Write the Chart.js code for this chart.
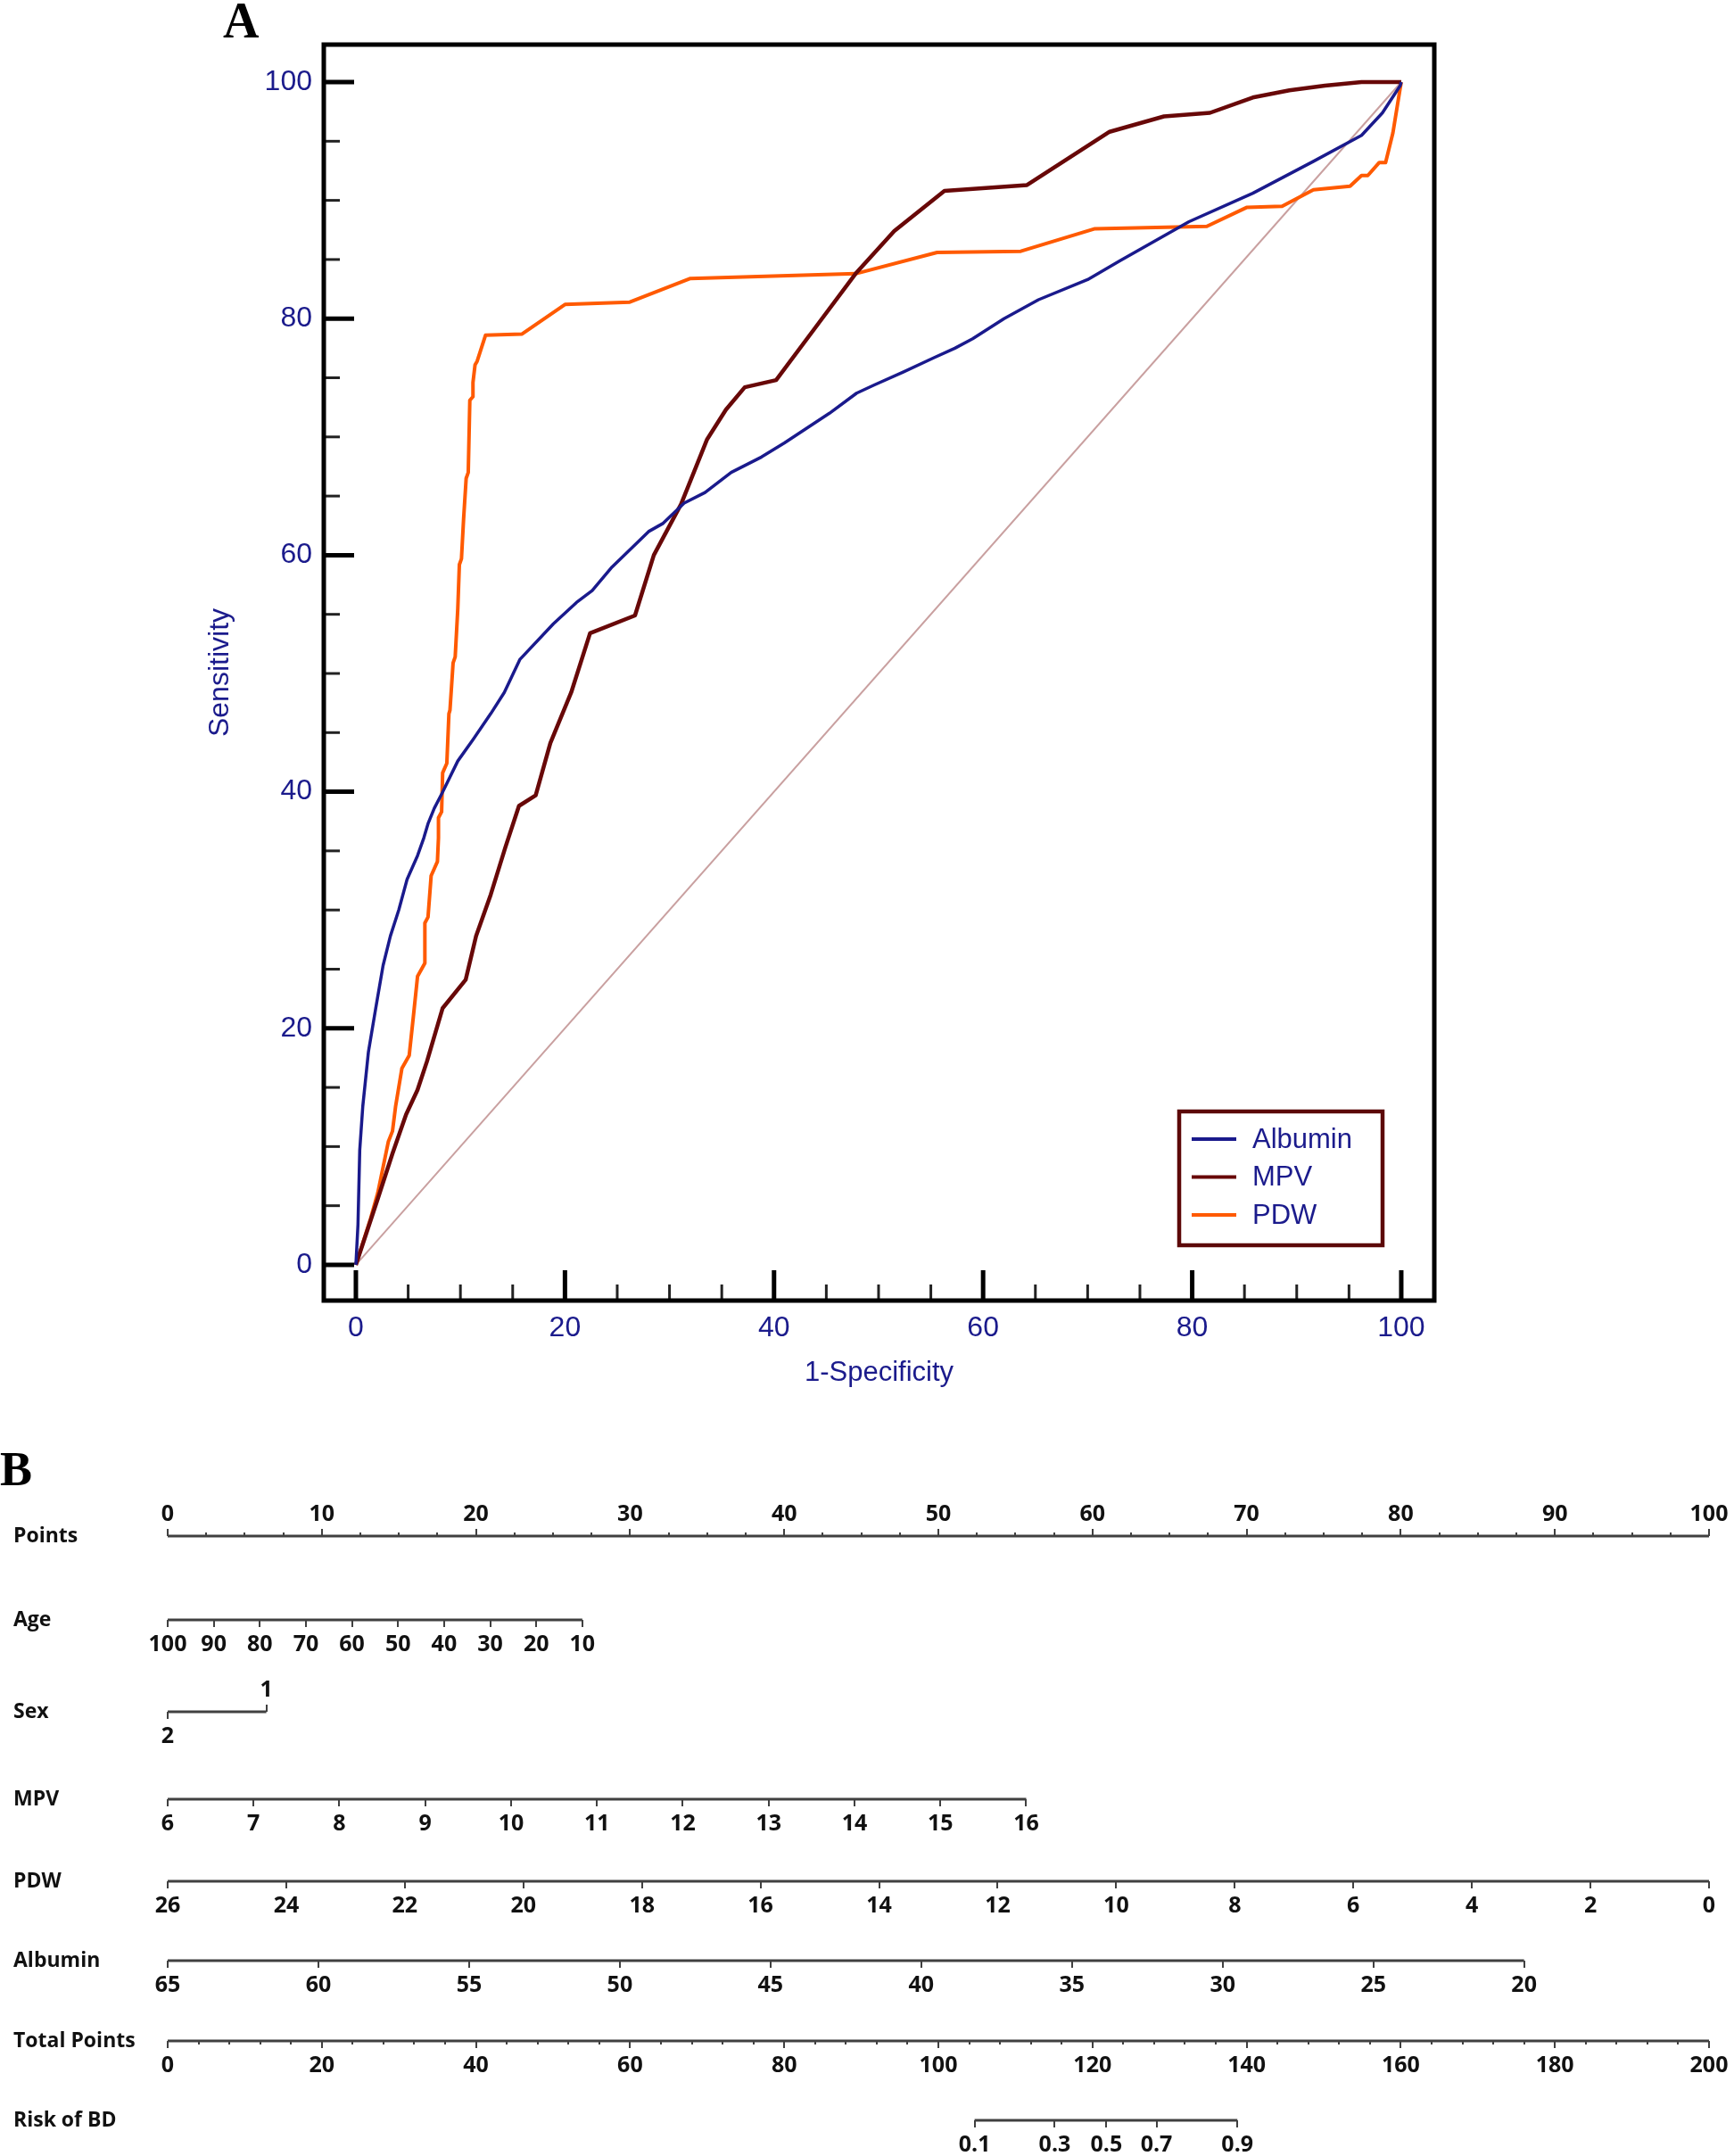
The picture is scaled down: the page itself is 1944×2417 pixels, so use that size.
<!DOCTYPE html>
<html>
<head>
<meta charset="utf-8">
<title>ROC e nomograma</title>
<script src="https://cdn.jsdelivr.net/npm/chart.js@4.4.1/dist/chart.umd.min.js"></script>
<style>
	html, body { margin: 0; padding: 0; background: #fff; }
	canvas { display: block; }
</style>
</head>
<body>
<canvas id="graficoRoc" width="1944" height="1600"></canvas>
<canvas id="graficoNomograma" width="1944" height="817"></canvas>
<script>
// Painel A - curvas ROC (1-especificidade, sensibilidade)
var curvaAlbumin = [[0,0],[0.2,3.4],[0.37,9.7],[0.66,13.4],[1.2,18.0],[1.9,21.7],[2.6,25.3],[3.3,27.8],[4.1,30.0],[4.9,32.6],[5.9,34.6],[6.5,36.1],[6.9,37.3],[7.5,38.6],[8.2,39.8],[9.75,42.6],[11.2,44.4],[12.9,46.6],[14.2,48.4],[15.7,51.2],[18.9,54.2],[21.1,56.0],[22.6,57.0],[24.5,59.0],[28.0,62.0],[29.4,62.7],[31.4,64.4],[33.4,65.3],[35.9,67.0],[38.8,68.3],[41.0,69.5],[45.3,72.0],[47.9,73.7],[49.6,74.4],[52.4,75.5],[55.3,76.7],[57.3,77.5],[59.0,78.3],[62.0,80.0],[65.3,81.6],[70.0,83.3],[73.1,84.9],[79.7,88.2],[85.8,90.6],[91.6,93.3],[96.2,95.5],[98.2,97.4],[99.9,99.7],[100,100]];
var curvaMpv = [[0,0],[2.1,5.6],[3.5,9.4],[4.8,12.7],[5.9,14.8],[6.8,17.2],[8.3,21.7],[10.5,24.1],[11.5,27.8],[12.9,31.3],[14.3,35.3],[15.6,38.8],[17.2,39.7],[18.6,44.1],[20.6,48.4],[22.4,53.4],[26.7,54.9],[28.5,60.0],[31.1,64.3],[33.6,69.8],[35.4,72.3],[37.2,74.2],[40.2,74.8],[44.0,79.3],[47.8,83.8],[51.5,87.4],[56.3,90.8],[64.2,91.3],[72.1,95.8],[77.3,97.1],[81.7,97.4],[85.8,98.7],[89.3,99.3],[92.7,99.7],[96.2,100],[100,100]];
var curvaPdw = [[0,0],[1.4,3.9],[2.1,6.1],[3.1,10.4],[3.5,11.3],[3.8,13.4],[4.4,16.6],[5.1,17.7],[5.5,21.0],[5.9,24.4],[6.6,25.5],[6.6,28.9],[6.9,29.4],[7.2,32.9],[7.8,34.1],[7.9,36.1],[7.9,37.8],[8.2,38.3],[8.3,41.6],[8.7,42.4],[8.9,46.6],[9.0,46.9],[9.3,50.9],[9.5,51.4],[9.75,55.5],[9.9,59.2],[10.1,59.7],[10.3,63.0],[10.55,66.5],[10.75,67.0],[10.9,73.1],[11.2,73.4],[11.2,74.6],[11.4,76.1],[11.6,76.4],[12.4,78.6],[15.9,78.7],[20.0,81.2],[26.2,81.4],[32.0,83.4],[47.8,83.8],[55.6,85.6],[63.6,85.7],[70.7,87.6],[81.4,87.8],[85.2,89.4],[88.6,89.5],[91.6,90.9],[95.1,91.2],[96.2,92.1],[96.8,92.1],[97.9,93.2],[98.5,93.2],[99.2,95.7],[99.9,99.5],[100,100]];
var diagonal = [[0,0],[100,100]];
var rocTicks = [0, 20, 40, 60, 80, 100];

// Painel B - nomograma
var rotulosLinhas = ['Points', 'Age', 'Sex', 'MPV', 'PDW', 'Albumin', 'Total Points', 'Risk of BD'];
var pontosTicks = [0, 10, 20, 30, 40, 50, 60, 70, 80, 90, 100];
var idadeValores = [100, 90, 80, 70, 60, 50, 40, 30, 20, 10];
var idadeFaixa = [0, 26.9];
var sexoRotulos = ['2', '1'];
var sexoPontos = [0, 6.4];
var mpvValores = [6, 7, 8, 9, 10, 11, 12, 13, 14, 15, 16];
var mpvFaixa = [0, 55.7];
var pdwValores = [26, 24, 22, 20, 18, 16, 14, 12, 10, 8, 6, 4, 2, 0];
var pdwFaixa = [0, 100];
var albuminaValores = [65, 60, 55, 50, 45, 40, 35, 30, 25, 20];
var albuminaFaixa = [0, 88.0];
var totalTicks = [0, 20, 40, 60, 80, 100, 120, 140, 160, 180, 200];
var riscoRotulos = ['0.1', '0.3', '0.5', '0.7', '0.9'];
var riscoPontos = [104.7, 115.1, 121.8, 128.3, 138.8];

// layout (pixels do canvas do nomograma)
var LINHA_Y = [122, 216, 319, 417, 509, 598, 688, 777];

var AZUL = '#1b1b8c';
var CINZA = '#404040';
var TEXTO = '#111111';
var FONTE_ROC = '"Liberation Sans", Arial, sans-serif';
var fonteNomo = { family: '"Open Sans", "Noto Sans", sans-serif', size: 25, weight: 'bold' };
var fonteLinhas = { family: '"Open Sans", "Noto Sans", sans-serif', size: 23, weight: 'bold' };

function pares(lista) {
	return lista.map(function(p) { return { x: p[0], y: p[1] }; });
}

function paraTicks(lista) {
	return lista.map(function(v) { return { value: v }; });
}

var molduraRoc = {
	id: 'molduraRoc',
	beforeDatasetsDraw: function(chart) {
		var ctx = chart.ctx, a = chart.chartArea;
		var sx = chart.scales.x, sy = chart.scales.y;
		ctx.save();
		for (var v = 0; v <= 100; v += 5) {
			var maior = v % 20 === 0;
			var len = maior ? 34 : 18;
			ctx.lineWidth = maior ? 5 : 3;
			ctx.strokeStyle = maior ? '#000' : '#222';
			var px = sx.getPixelForValue(v);
			ctx.beginPath(); ctx.moveTo(px, a.bottom); ctx.lineTo(px, a.bottom - len); ctx.stroke();
			var py = sy.getPixelForValue(v);
			ctx.beginPath(); ctx.moveTo(a.left, py); ctx.lineTo(a.left + len, py); ctx.stroke();
		}
		ctx.restore();
	},
	afterDraw: function(chart) {
		var ctx = chart.ctx, a = chart.chartArea;
		ctx.save();
		ctx.lineWidth = 5;
		ctx.strokeStyle = '#000';
		ctx.strokeRect(a.left, a.top, a.right - a.left, a.bottom - a.top);

		var caixa = { x: 1322, y: 1246, w: 228, h: 150 };
		ctx.fillStyle = '#fff';
		ctx.fillRect(caixa.x, caixa.y, caixa.w, caixa.h);
		ctx.lineWidth = 4.5;
		ctx.strokeStyle = '#5c0808';
		ctx.strokeRect(caixa.x, caixa.y, caixa.w, caixa.h);
		ctx.font = '31px ' + FONTE_ROC;
		ctx.textBaseline = 'middle';
		ctx.textAlign = 'left';
		chart.data.datasets.slice(0, 3).forEach(function(ds, i) {
			var yy = caixa.y + 31 + i * 42.5;
			ctx.strokeStyle = ds.borderColor;
			ctx.lineWidth = 4;
			ctx.beginPath(); ctx.moveTo(caixa.x + 14, yy); ctx.lineTo(caixa.x + 64, yy); ctx.stroke();
			ctx.fillStyle = AZUL;
			ctx.fillText(ds.label, caixa.x + 82, yy + 1);
		});

		ctx.fillStyle = '#000';
		ctx.font = 'bold 56px "Liberation Serif", "Times New Roman", serif';
		ctx.textBaseline = 'alphabetic';
		ctx.fillText('A', 250, 42);
		ctx.restore();
	}
};

var graficoRoc = new Chart(document.getElementById('graficoRoc').getContext('2d'), {
	type: 'line',
	data: {
		datasets: [
			{ label: 'Albumin', data: pares(curvaAlbumin), borderColor: '#1a1a8c', borderWidth: 3.5 },
			{ label: 'MPV', data: pares(curvaMpv), borderColor: '#680808', borderWidth: 4.5 },
			{ label: 'PDW', data: pares(curvaPdw), borderColor: '#ff5a00', borderWidth: 4 },
			{ label: '', data: pares(diagonal), borderColor: '#c9a0a0', borderWidth: 2 }
		]
	},
	options: {
		responsive: false,
		animation: false,
		devicePixelRatio: 1,
		layout: { padding: { left: 0, top: 50, right: 336, bottom: 0 } },
		elements: { point: { radius: 0 }, line: { tension: 0, borderJoinStyle: 'round', fill: false } },
		plugins: { legend: { display: false }, tooltip: { enabled: false } },
		scales: {
			x: {
				type: 'linear', min: -3.07, max: 103.16,
				grid: { display: false, drawTicks: false },
				border: { display: false },
				afterBuildTicks: function(s) { s.ticks = paraTicks(rocTicks); },
				afterFit: function(s) { s.height = 142; },
				ticks: { color: AZUL, font: { family: FONTE_ROC, size: 32 }, padding: 12, maxRotation: 0, autoSkip: false },
				title: { display: true, text: '1-Specificity', color: AZUL, font: { family: FONTE_ROC, size: 31 }, padding: { top: 0, bottom: 42 } }
			},
			y: {
				type: 'linear', min: -3.02, max: 103.17,
				grid: { display: false, drawTicks: false },
				border: { display: false },
				afterBuildTicks: function(s) { s.ticks = paraTicks(rocTicks); },
				afterFit: function(s) { s.width = 363; },
				ticks: { color: AZUL, font: { family: FONTE_ROC, size: 32 }, padding: 13, autoSkip: false },
				title: { display: true, text: 'Sensitivity', color: AZUL, font: { family: FONTE_ROC, size: 32 }, padding: { top: 228, bottom: 0 } }
			}
		}
	},
	plugins: [molduraRoc]
});

// ---- nomograma ----
function paraPontos(valores, faixa) {
	var v0 = valores[0], v1 = valores[valores.length - 1];
	return valores.map(function(v) {
		return faixa[0] + (v - v0) / (v1 - v0) * (faixa[1] - faixa[0]);
	});
}

function marcasMenores(max, passo) {
	var lista = [];
	for (var v = 0; v <= max + 1e-9; v += passo) lista.push(v);
	return lista;
}

function eixo(yLinha, max, posicoes, rotulos, comprimento, acima) {
	return {
		type: 'linear', axis: 'x', position: { y: yLinha }, min: 0, max: max,
		border: { display: false },
		grid: { display: true, drawOnChartArea: false, drawTicks: true, tickLength: acima ? -comprimento : comprimento, color: CINZA, lineWidth: 2 },
		afterBuildTicks: function(s) { s.ticks = paraTicks(posicoes); },
		ticks: {
			display: !!rotulos, autoSkip: false, maxRotation: 0, minRotation: 0,
			color: TEXTO, font: fonteNomo, padding: acima ? -31 : 5,
			callback: function(v, i) { return rotulos ? rotulos[i] : ''; }
		}
	};
}

function linha(id, yLinha, x0, x1) {
	return {
		data: [{ x: x0, y: yLinha }, { x: x1, y: yLinha }],
		xAxisID: id, yAxisID: 'y',
		borderColor: CINZA, borderWidth: 3, pointRadius: 0, clip: false
	};
}

var idadePos = paraPontos(idadeValores, idadeFaixa);
var mpvPos = paraPontos(mpvValores, mpvFaixa);
var pdwPos = paraPontos(pdwValores, pdwFaixa);
var albuminaPos = paraPontos(albuminaValores, albuminaFaixa);

var letraB = {
	id: 'letraB',
	afterDraw: function(chart) {
		var ctx = chart.ctx;
		ctx.save();
		ctx.fillStyle = '#000';
		ctx.font = 'bold 54px "Liberation Serif", "Times New Roman", serif';
		ctx.textBaseline = 'alphabetic';
		ctx.textAlign = 'left';
		ctx.fillText('B', 0, 65);
		ctx.restore();
	}
};

var graficoNomograma = new Chart(document.getElementById('graficoNomograma').getContext('2d'), {
	type: 'line',
	data: {
		datasets: [
			linha('pMaior', LINHA_Y[0], 0, 100),
			linha('idade', LINHA_Y[1], idadePos[0], idadePos[idadePos.length - 1]),
			linha('sexo2', LINHA_Y[2], sexoPontos[0], sexoPontos[1]),
			linha('mpv', LINHA_Y[3], mpvPos[0], mpvPos[mpvPos.length - 1]),
			linha('pdw', LINHA_Y[4], pdwPos[0], pdwPos[pdwPos.length - 1]),
			linha('albumina', LINHA_Y[5], albuminaPos[0], albuminaPos[albuminaPos.length - 1]),
			linha('tMaior', LINHA_Y[6], 0, 200),
			linha('risco', LINHA_Y[7], riscoPontos[0], riscoPontos[riscoPontos.length - 1])
		]
	},
	options: {
		responsive: false,
		animation: false,
		devicePixelRatio: 1,
		layout: { padding: { left: 15, top: 0, right: 28, bottom: 0 } },
		plugins: { legend: { display: false }, tooltip: { enabled: false } },
		scales: {
			y: {
				type: 'linear', position: 'left', min: 0, max: 817, reverse: true,
				grid: { display: false, drawTicks: false },
				border: { display: false },
				afterBuildTicks: function(s) { s.ticks = paraTicks(LINHA_Y); },
				afterFit: function(s) { s.width = 173; s.paddingTop = 0; s.paddingBottom = 0; },
				ticks: {
					crossAlign: 'far', color: TEXTO, font: fonteLinhas, autoSkip: false, padding: 0,
					callback: function(v, i) { return rotulosLinhas[i]; }
				}
			},
			pMaior: eixo(LINHA_Y[0], 100, pontosTicks, pontosTicks.map(String), 8, true),
			pMenor: eixo(LINHA_Y[0], 100, marcasMenores(100, 2.5), null, 4, true),
			idade: eixo(LINHA_Y[1], 100, idadePos, idadeValores.map(String), 8, false),
			sexo2: eixo(LINHA_Y[2], 100, [sexoPontos[0]], [sexoRotulos[0]], 8, false),
			sexo1: eixo(LINHA_Y[2], 100, [sexoPontos[1]], [sexoRotulos[1]], 8, true),
			mpv: eixo(LINHA_Y[3], 100, mpvPos, mpvValores.map(String), 8, false),
			pdw: eixo(LINHA_Y[4], 100, pdwPos, pdwValores.map(String), 8, false),
			albumina: eixo(LINHA_Y[5], 100, albuminaPos, albuminaValores.map(String), 8, false),
			tMaior: eixo(LINHA_Y[6], 200, totalTicks, totalTicks.map(String), 8, false),
			tMenor: eixo(LINHA_Y[6], 200, marcasMenores(200, 4), null, 4, false),
			risco: eixo(LINHA_Y[7], 200, riscoPontos, riscoRotulos, 8, false)
		}
	},
	plugins: [letraB]
});
</script>
</body>
</html>
